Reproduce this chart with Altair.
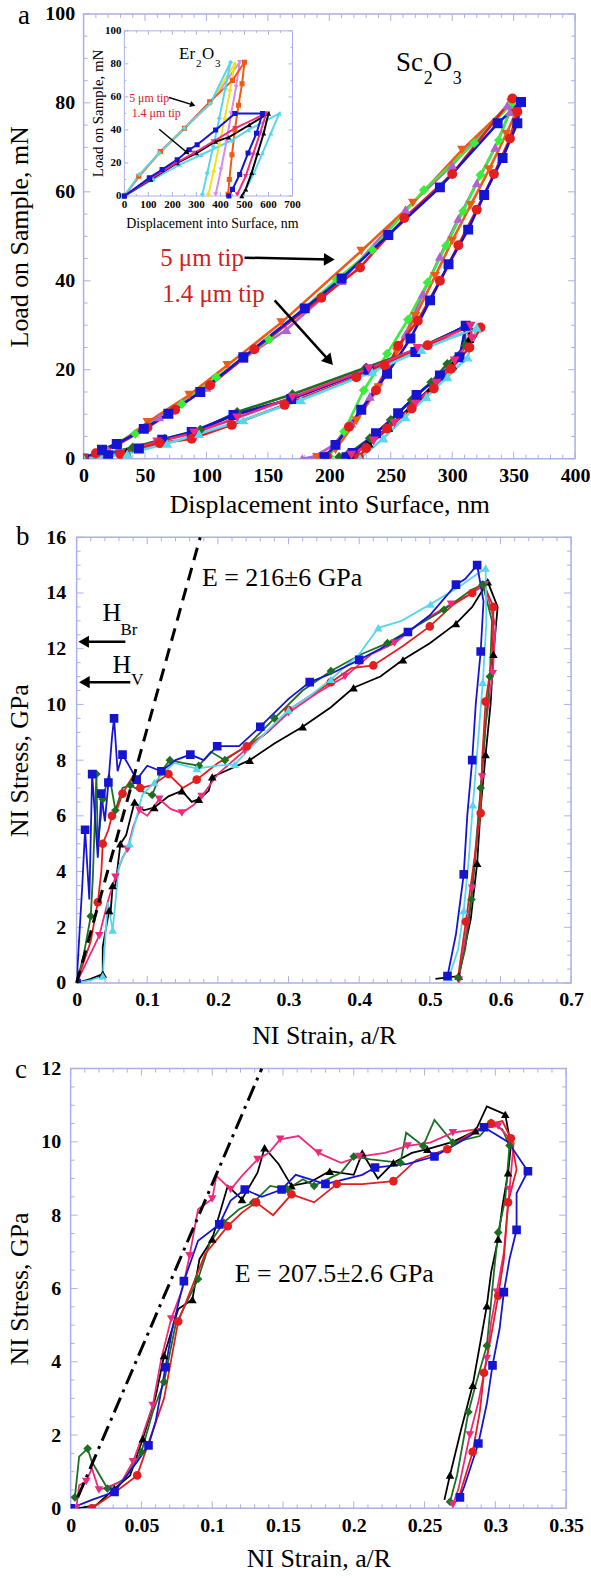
import altair as alt
import pandas as pd

SERIF = "Liberation Serif"
FRAME = "#aab0e6"

# ================= Panel a : Sc2O3, load (mN) vs displacement (nm) =================
# 5 um tip
A5_BLUE_X = [0, 15, 27, 49, 69, 95, 130, 180, 210, 248, 290, 337, 356, 353, 341, 326, 313, 297, 282, 266, 247, 226, 205, 196]
A5_BLUE_Y = [0, 2.0, 3.3, 6.7, 10.1, 15.0, 22.8, 33.8, 40.5, 50.3, 61.0, 75.4, 80.2, 75.4, 67.6, 59.3, 51.5, 43.7, 35.6, 27.0, 19.1, 11.0, 3.1, 0.3]
A5_RED_X = [0, 10, 27.5, 52, 74.5, 103, 139, 193.5, 225, 261, 300, 349, 353, 347, 334, 320, 305, 290, 272, 256, 238, 216, 198]
A5_RED_Y = [0, 1.2, 3.1, 7.0, 11.0, 16.5, 24.6, 36.2, 43.0, 54.1, 64.0, 81.0, 78.0, 72.0, 64.0, 56.0, 48.0, 40.0, 31.0, 25.4, 15.4, 7.2, 0.5]
A5_GREEN_X = [0, 12, 42, 80, 108, 151, 206, 235, 277, 318, 349, 338, 323, 309, 295, 280, 264, 247, 228, 212, 200]
A5_GREEN_Y = [0, 1.5, 5.6, 12.3, 18.3, 26.8, 40.3, 47.0, 60.4, 71.0, 80.0, 71.6, 63.8, 55.7, 47.9, 39.6, 31.3, 23.6, 15.4, 6.1, 0.5]
A5_ORANGE_X = [0, 27, 52, 86, 117, 161, 226, 268, 308, 348, 352, 344, 330, 315, 300, 286, 270, 255, 240, 222, 205, 190]
A5_ORANGE_Y = [0, 3.0, 8.2, 14.3, 21.0, 30.6, 46.7, 57.5, 69.4, 80.0, 78.0, 73.0, 65.0, 57.0, 49.0, 41.0, 32.0, 24.0, 16.0, 8.5, 2.0, 0.3]
A5_PURPLE_X = [0, 20, 61.5, 100, 130, 165, 210, 262, 300, 345, 347, 335, 320, 305, 290, 276, 262, 247, 233, 218, 203, 188, 178]
A5_PURPLE_Y = [0, 2.0, 9.4, 16.0, 22.5, 29.0, 40.0, 56.0, 66.0, 79.5, 78.0, 70.0, 62.0, 54.0, 45.5, 37.0, 28.0, 20.0, 14.0, 8.0, 3.0, 0.5, 0]
# 1.4 um tip
A14_BLUE_X = [0, 20, 45, 64, 88, 122, 169, 232, 270, 311, 306, 290, 271, 256, 238, 219, 214]
A14_BLUE_Y = [0, 0.8, 2.3, 4.25, 6.0, 9.8, 13.4, 20.0, 24.0, 29.9, 22.8, 18.7, 14.3, 10.2, 5.7, 1.3, 0.3]
A14_RED_X = [0, 30, 62, 88, 120.6, 163.6, 222, 245, 280, 323, 314, 299, 285, 267, 247, 230, 224]
A14_RED_Y = [0, 1.0, 3.5, 4.5, 7.6, 12.1, 18.3, 21.0, 25.5, 29.5, 25.0, 20.2, 15.8, 11.3, 6.8, 2.4, 0.3]
A14_GREEN_X = [0, 40, 66, 95, 125, 170, 230, 270, 310, 311, 296, 283, 267, 250, 233, 215, 208]
A14_GREEN_Y = [0, 2.5, 4.5, 6.5, 10.5, 14.5, 20.5, 24.5, 29.5, 25.4, 21.3, 17.2, 13.2, 8.7, 4.6, 1.0, 0.4]
A14_BLACK_X = [0, 35, 64, 90, 122, 169, 231.6, 270, 313, 314, 300, 283, 266, 248, 232, 218]
A14_BLACK_Y = [0, 1.5, 4.25, 6.0, 9.8, 13.4, 20.1, 24.5, 30.0, 27.0, 21.0, 16.0, 11.5, 7.0, 3.5, 0.5]
A14_CYAN_X = [0, 35.6, 68, 94, 130, 177, 235, 275, 320, 312.5, 296, 279, 262, 244, 225]
A14_CYAN_Y = [0, 1.1, 3.4, 5.6, 8.7, 13.2, 19.5, 24.5, 29.5, 22.8, 18.4, 13.9, 9.4, 4.6, 0.1]
A14_MAG_X = [0, 30, 60, 90, 125, 170, 232, 272, 315, 316, 302, 287, 270, 253, 236, 218]
A14_MAG_Y = [0, 1.2, 3.8, 5.8, 9.2, 13.8, 20.2, 24.8, 29.8, 27.0, 22.0, 17.0, 12.3, 8.0, 4.0, 0.8]

# Inset : Er2O3
I5_CYAN_X = [0, 62, 145, 250, 358, 442, 420, 395, 370, 345, 325]
I5_CYAN_Y = [0, 13, 26, 41, 56, 81, 65, 47, 30, 14, 1]
I5_ORANGE_X = [0, 60, 150, 250, 355, 450, 500, 490, 475, 460, 448, 437, 432]
I5_ORANGE_Y = [0, 12, 27, 41, 57, 70, 81, 68, 55, 40, 25, 10, 1]
I5_YELLOW_X = [0, 65, 148, 252, 356, 460, 440, 418, 395, 372, 350]
I5_YELLOW_Y = [0, 13, 26, 41, 56, 80, 64, 47, 31, 15, 1]
I5_PINK_X = [0, 63, 147, 251, 357, 480, 465, 445, 425, 402, 380]
I5_PINK_Y = [0, 12, 26, 41, 56, 81, 66, 50, 33, 16, 1]
I14_BLUE_X = [0, 104, 157, 220, 270, 303, 380, 460, 575, 550, 515, 480, 450, 435]
I14_BLUE_Y = [0, 11, 16, 22, 28, 31, 40, 50, 50, 38, 26, 13, 4, 0]
I14_BLACK_X = [0, 110, 220, 300, 380, 434, 520, 600, 580, 555, 530, 505, 489]
I14_BLACK_Y = [0, 10, 20, 26, 33, 35.5, 43, 50, 38, 26, 14, 4, 0]
I14_MAG_X = [0, 105, 215, 290, 370, 460, 590, 565, 535, 505, 470]
I14_MAG_Y = [0, 10, 20, 26, 33, 41, 50, 38, 25, 12, 1]
I14_CYAN_X = [0, 120, 230, 320, 447, 517, 645, 610, 575, 540, 505, 489]
I14_CYAN_Y = [0, 10, 19, 25, 33.7, 40, 50, 38, 26, 14, 4, 0]

# ================= Panel b : NI stress (GPa) vs NI strain =================
B_BLUE_X = [0, 0.008, 0.012, 0.018, 0.022, 0.03, 0.035, 0.04, 0.045, 0.05, 0.053, 0.058, 0.065, 0.072, 0.085, 0.1, 0.12, 0.14, 0.161, 0.18, 0.199, 0.23, 0.26, 0.3, 0.33, 0.36, 0.4, 0.43, 0.469, 0.5, 0.537, 0.55, 0.567, 0.576, 0.572, 0.565, 0.56, 0.553, 0.548, 0.537, 0.525]
B_BLUE_Y = [0, 3.5, 5.5, 3.0, 7.5, 4.5, 6.8, 5.8, 7.2, 8.8, 9.5, 7.6, 8.2, 7.9, 7.3, 7.8, 7.6, 8.0, 8.2, 8.0, 8.5, 8.5, 9.2, 10.2, 10.8, 11.1, 11.6, 12.0, 12.6, 13.2, 14.3, 14.5, 15.0, 13.7, 11.9, 10.0, 8.0, 6.0, 3.9, 1.75, 0.25]
B_RED_X = [0, 0.02, 0.03, 0.035, 0.037, 0.045, 0.05, 0.058, 0.065, 0.079, 0.09, 0.107, 0.13, 0.15, 0.17, 0.2, 0.241, 0.27, 0.3, 0.33, 0.36, 0.389, 0.42, 0.462, 0.5, 0.534, 0.56, 0.575, 0.59, 0.589, 0.579, 0.574, 0.572, 0.562, 0.551, 0.54]
B_RED_Y = [0, 1.5, 2.9, 4.0, 5.0, 5.5, 6.0, 6.3, 6.8, 7.4, 7.0, 7.1, 7.5, 7.0, 7.3, 7.9, 8.5, 9.0, 9.8, 10.3, 10.8, 11.3, 11.4, 12.1, 12.8, 13.6, 14.0, 14.4, 13.5, 11.8, 10.1, 8.0, 6.1, 4.25, 2.2, 0.2]
B_GREEN_X = [0, 0.01, 0.02, 0.023, 0.028, 0.03, 0.037, 0.046, 0.055, 0.065, 0.076, 0.09, 0.107, 0.12, 0.132, 0.15, 0.173, 0.19, 0.21, 0.245, 0.28, 0.32, 0.36, 0.403, 0.44, 0.48, 0.52, 0.558, 0.575, 0.588, 0.585, 0.578, 0.572, 0.566, 0.559, 0.55, 0.54]
B_GREEN_Y = [0, 1.0, 2.4, 3.8, 7.5, 5.0, 6.6, 7.5, 6.2, 7.0, 7.1, 6.9, 6.75, 7.6, 8.0, 7.9, 7.8, 8.3, 8.0, 8.6, 9.5, 10.5, 11.2, 11.8, 12.2, 12.8, 13.4, 14.1, 14.3, 13.0, 11.0, 9.0, 7.0, 5.0, 3.0, 1.2, 0.2]
B_BLACK_X = [0, 0.02, 0.037, 0.037, 0.046, 0.048, 0.051, 0.055, 0.062, 0.07, 0.082, 0.095, 0.11, 0.13, 0.149, 0.163, 0.173, 0.187, 0.192, 0.21, 0.245, 0.28, 0.32, 0.36, 0.392, 0.43, 0.462, 0.5, 0.537, 0.56, 0.582, 0.596, 0.59, 0.586, 0.579, 0.572, 0.567, 0.558, 0.541, 0.508]
B_BLACK_Y = [0, 0.15, 0.32, 1.3, 2.6, 2.5, 3.5, 3.5, 5.0, 5.3, 6.5, 6.2, 6.3, 6.7, 6.9, 6.5, 6.6, 6.9, 7.4, 7.6, 8.0, 8.6, 9.2, 9.9, 10.6, 11.0, 11.6, 12.2, 12.9, 13.5, 14.4, 13.5, 11.8, 10.0, 8.2, 6.3, 4.3, 2.3, 0.25, 0.15]
B_MAG_X = [0, 0.015, 0.032, 0.045, 0.055, 0.065, 0.072, 0.08, 0.089, 0.1, 0.117, 0.133, 0.149, 0.166, 0.177, 0.2, 0.238, 0.27, 0.3, 0.34, 0.38, 0.417, 0.45, 0.49, 0.53, 0.56, 0.578, 0.593, 0.589, 0.579, 0.574, 0.567, 0.56, 0.548, 0.541]
B_MAG_Y = [0, 0.8, 1.7, 3.0, 3.8, 4.5, 4.8, 5.6, 6.2, 6.0, 6.6, 6.25, 6.1, 6.4, 6.7, 7.5, 8.35, 9.0, 9.7, 10.4, 11.0, 11.8, 12.2, 13.0, 13.6, 14.0, 14.3, 12.8, 11.1, 9.25, 7.4, 5.5, 3.4, 1.25, 0.1]
B_CYAN_X = [0, 0.02, 0.037, 0.044, 0.051, 0.06, 0.075, 0.093, 0.11, 0.138, 0.17, 0.2, 0.224, 0.26, 0.3, 0.33, 0.36, 0.4, 0.427, 0.46, 0.501, 0.54, 0.579, 0.58, 0.575, 0.568, 0.561, 0.555, 0.548, 0.54, 0.527]
B_CYAN_Y = [0, 0.1, 0.25, 2.9, 1.9, 4.2, 5.0, 6.75, 7.2, 7.9, 7.7, 7.8, 7.85, 8.8, 9.8, 10.3, 10.9, 11.8, 12.75, 13.0, 13.6, 14.2, 14.9, 12.9, 10.8, 8.6, 6.4, 4.4, 2.6, 1.2, 0.2]
B_ELASTIC_X = [0, 0.175]
B_ELASTIC_Y = [0, 16]

# ================= Panel c : NI stress (GPa) vs NI strain =================
C_BLUE_X = [0, 0.015, 0.031, 0.047, 0.055, 0.06, 0.067, 0.072, 0.08, 0.09, 0.105, 0.113, 0.123, 0.135, 0.149, 0.159, 0.18, 0.206, 0.215, 0.238, 0.257, 0.275, 0.292, 0.309, 0.323, 0.315, 0.315, 0.31, 0.306, 0.303, 0.298, 0.294, 0.288, 0.278, 0.275]
C_BLUE_Y = [0, 0.23, 0.45, 1.27, 1.72, 2.36, 3.85, 4.94, 6.2, 7.3, 7.75, 8.4, 8.7, 8.5, 8.7, 9.1, 8.85, 9.1, 9.3, 9.4, 9.6, 10.0, 10.4, 10.0, 9.2, 8.6, 7.6, 6.8, 5.9, 4.9, 3.9, 2.86, 1.77, 0.59, 0.3]
C_RED_X = [0.015, 0.03, 0.047, 0.066, 0.076, 0.095, 0.111, 0.121, 0.131, 0.143, 0.156, 0.172, 0.188, 0.206, 0.228, 0.244, 0.266, 0.281, 0.297, 0.305, 0.311, 0.315, 0.309, 0.306, 0.302, 0.297, 0.292, 0.289, 0.284, 0.274]
C_RED_Y = [0, 0.4, 0.9, 3.0, 5.1, 6.94, 7.7, 8.07, 8.35, 8.0, 8.57, 8.35, 8.85, 8.85, 8.93, 9.5, 9.8, 10.2, 10.5, 10.57, 10.1, 9.25, 8.35, 6.8, 5.8, 4.7, 3.7, 2.63, 1.54, 0.27]
C_BLACK_X = [0.005, 0.018, 0.031, 0.042, 0.051, 0.06, 0.066, 0.076, 0.086, 0.091, 0.1, 0.111, 0.121, 0.132, 0.137, 0.147, 0.156, 0.169, 0.183, 0.2, 0.206, 0.217, 0.228, 0.241, 0.252, 0.27, 0.286, 0.294, 0.307, 0.311, 0.309, 0.305, 0.302, 0.297, 0.294, 0.289, 0.284, 0.276, 0.268, 0.264]
C_BLACK_Y = [0, 0.09, 0.54, 0.9, 1.9, 3.04, 4.17, 5.44, 5.7, 6.8, 7.35, 8.8, 8.43, 9.16, 9.84, 9.39, 8.8, 8.9, 9.2, 9.1, 9.7, 9.0, 9.43, 9.7, 9.8, 10.0, 10.3, 10.97, 10.75, 9.9, 9.16, 8.25, 7.35, 6.44, 5.53, 4.44, 3.36, 2.18, 0.91, 0.23]
C_GREEN_X = [0.003, 0.006, 0.012, 0.015, 0.026, 0.038, 0.05, 0.058, 0.066, 0.074, 0.09, 0.098, 0.108, 0.119, 0.129, 0.141, 0.153, 0.164, 0.172, 0.191, 0.2, 0.212, 0.233, 0.237, 0.249, 0.257, 0.27, 0.289, 0.297, 0.305, 0.31, 0.307, 0.302, 0.299, 0.294, 0.286, 0.281, 0.273, 0.268]
C_GREEN_Y = [0.3, 1.41, 1.63, 1.27, 0.54, 0.8, 1.54, 2.63, 3.45, 4.99, 6.26, 7.21, 7.8, 8.16, 8.35, 8.8, 8.71, 8.98, 8.8, 9.16, 9.6, 9.52, 9.43, 10.25, 9.89, 10.6, 9.98, 10.16, 10.52, 10.34, 9.9, 8.44, 7.53, 6.44, 4.44, 3.36, 2.63, 0.91, 0.18]
C_MAG_X = [0.004, 0.006, 0.011, 0.015, 0.02, 0.036, 0.044, 0.05, 0.058, 0.064, 0.071, 0.079, 0.084, 0.09, 0.1, 0.103, 0.113, 0.121, 0.132, 0.14, 0.148, 0.161, 0.175, 0.191, 0.204, 0.222, 0.238, 0.254, 0.27, 0.286, 0.302, 0.313, 0.31, 0.306, 0.301, 0.297, 0.294, 0.288, 0.282, 0.274, 0.27]
C_MAG_Y = [0, 0.63, 0.73, 1.09, 0.5, 0.73, 1.27, 1.9, 2.81, 4.08, 5.17, 5.99, 6.89, 8.16, 8.44, 9.07, 8.7, 9.07, 9.52, 9.7, 10.07, 10.16, 9.7, 9.43, 9.6, 9.7, 9.89, 9.98, 10.25, 10.34, 10.43, 9.98, 8.7, 6.98, 5.9, 5.08, 4.08, 2.9, 2.0, 0.54, 0.1]
C_ELASTIC_X = [0.005, 0.135]
C_ELASTIC_Y = [0.3, 12]

# tick values
A_X_MAJOR = [0, 50, 100, 150, 200, 250, 300, 350, 400]
A_Y_MAJOR = [0, 20, 40, 60, 80, 100]
B_X_MAJOR = [0, 0.1, 0.2, 0.3, 0.4, 0.5, 0.6, 0.7]
B_Y_MAJOR = [0, 2, 4, 6, 8, 10, 12, 14, 16]
C_X_MAJOR = [0, 0.05, 0.1, 0.15, 0.2, 0.25, 0.3, 0.35]
C_Y_MAJOR = [0, 2, 4, 6, 8, 10, 12]
I_X_MAJOR = [0, 100, 200, 300, 400, 500, 600, 700]
I_Y_MAJOR = [0, 20, 40, 60, 80, 100]

A_X_MINOR = [v for v in range(0, 401, 10) if v % 50]
A_Y_MINOR = [v for v in range(0, 101, 5) if v % 20]
B_X_MINOR = [round(i * 0.02, 3) for i in range(36) if i % 5]
B_Y_MINOR = [i * 0.5 for i in range(33) if i % 4]
C_X_MINOR = [round(i * 0.01, 3) for i in range(36) if i % 5]
C_Y_MINOR = [i * 0.5 for i in range(25) if i % 4]
I_X_MINOR = [v for v in range(50, 700, 100)]
I_Y_MINOR = [10, 30, 50, 70, 90]

# colours
BLUE, RED, DKGREEN, BLACK, MAG, CYAN = "#1414d2", "#e21e1e", "#1c6e22", "#000000", "#f0287e", "#58d6ee"
LTGREEN, ORANGE, PURPLE, YELLOW, PINK = "#3cec3c", "#f05a14", "#b45fd2", "#f2e21c", "#d88ae8"


def series_layers(series, xs, ys, xax, yax, size, lw, every=1):
    rows = []
    for name, xv, yv, color, shape in series:
        for i, (a, b) in enumerate(zip(xv, yv)):
            rows.append({"x": a, "y": b, "i": i, "s": name, "c": color, "sh": shape})
    df = pd.DataFrame(rows)
    base = alt.Chart(df)
    X = alt.X("x:Q", scale=xs, axis=xax)
    Y = alt.Y("y:Q", scale=ys, axis=yax)
    line = base.mark_line(strokeWidth=lw, clip=True).encode(
        x=X, y=Y, color=alt.Color("c:N", scale=None), detail="s:N", order="i:Q")
    pts = base.transform_filter(f"datum.i % {every} == 0").mark_point(
        filled=True, opacity=1, size=size, clip=True).encode(
        x=X, y=Y, color=alt.Color("c:N", scale=None), shape=alt.Shape("sh:N", scale=None))
    return [line, pts]


def tick_layers(xs, ys, xmaj, xmin, ymaj, ymin, W, H, xax, yax, x0=0, y0=0, big=7, small=4):
    out = []
    for vals, L in ((xmaj, big), (xmin, small)):
        c = alt.Chart(pd.DataFrame({"v": vals}))
        X = alt.X("v:Q", scale=xs, axis=xax)
        out.append(c.mark_rule(color=FRAME, strokeWidth=1).encode(x=X, y=alt.value(y0 + H), y2=alt.value(y0 + H - L)))
        out.append(c.mark_rule(color=FRAME, strokeWidth=1).encode(x=X, y=alt.value(y0), y2=alt.value(y0 + L)))
    for vals, L in ((ymaj, big), (ymin, small)):
        c = alt.Chart(pd.DataFrame({"v": vals}))
        Y = alt.Y("v:Q", scale=ys, axis=yax)
        out.append(c.mark_rule(color=FRAME, strokeWidth=1).encode(y=Y, x=alt.value(x0), x2=alt.value(x0 + L)))
        out.append(c.mark_rule(color=FRAME, strokeWidth=1).encode(y=Y, x=alt.value(x0 + W), x2=alt.value(x0 + W - L)))
    return out


def ptext(text, x, y, size, color="black", align="left", baseline="alphabetic", weight="normal", angle=0):
    kw = dict(text=text, font=SERIF, fontSize=size, align=align, baseline=baseline, color=color, fontWeight=weight)
    if angle:
        kw["angle"] = angle
    return alt.Chart(pd.DataFrame({"d": [0]})).mark_text(**kw).encode(x=alt.value(x), y=alt.value(y))


def extent_box(top, bottom):
    # invisible box fixing the vertical extent of a panel for the layout
    return alt.Chart(pd.DataFrame({"d": [0]})).mark_rect(opacity=0).encode(
        x=alt.value(0), x2=alt.value(1), y=alt.value(top), y2=alt.value(bottom))


def arrow(x0, y0, x1, y1, xs, ys, xax, yax, angle, size, width=2.5, shape="triangle-right"):
    d = pd.DataFrame({"x": [x0], "y": [y0], "x1": [x1], "y1": [y1]})
    shaft = alt.Chart(d).mark_rule(color="black", strokeWidth=width).encode(
        x=alt.X("x:Q", scale=xs, axis=xax), y=alt.Y("y:Q", scale=ys, axis=yax), x2="x1:Q", y2="y1:Q")
    kw = dict(shape=shape, filled=True, opacity=1, color="black", size=size)
    if angle:
        kw["angle"] = angle
    head = alt.Chart(d).mark_point(**kw).encode(
        x=alt.X("x1:Q", scale=xs, axis=xax), y=alt.Y("y1:Q", scale=ys, axis=yax))
    return [shaft, head]


LABEL_EXPR = "'' + datum.value"


def xaxis(values, title, pad, tY, W):
    return alt.Axis(values=values, labelExpr=LABEL_EXPR, title=title, labelPadding=pad,
                    titleX=W / 2, titleY=tY, titleAlign="center", titleBaseline="alphabetic", titleAngle=0)


def yaxis(values, title, pad, tX, H):
    return alt.Axis(values=values, labelExpr=LABEL_EXPR, title=title, labelPadding=pad,
                    titleX=tX, titleY=H / 2, titleAlign="center", titleBaseline="middle", titleAngle=270)


# ---------------- panel a ----------------
AW, AH = 494, 447
axs = alt.Scale(domain=[0, 400], nice=False, zero=False)
ays = alt.Scale(domain=[0, 100], nice=False, zero=False)
axx = xaxis(A_X_MAJOR, "Displacement into Surface, nm", 7, 54, AW)
ayx = yaxis(A_Y_MAJOR, "Load on Sample, mN", 9, -64, AH)

a_series = [
    ("p", A5_PURPLE_X, A5_PURPLE_Y, PURPLE, "triangle-up"),
    ("o", A5_ORANGE_X, A5_ORANGE_Y, ORANGE, "triangle-down"),
    ("g", A5_GREEN_X, A5_GREEN_Y, LTGREEN, "diamond"),
    ("r", A5_RED_X, A5_RED_Y, RED, "circle"),
    ("b", A5_BLUE_X, A5_BLUE_Y, BLUE, "square"),
    ("k14", A14_BLACK_X, A14_BLACK_Y, BLACK, "triangle-up"),
    ("g14", A14_GREEN_X, A14_GREEN_Y, DKGREEN, "diamond"),
    ("b14", A14_BLUE_X, A14_BLUE_Y, BLUE, "square"),
    ("m14", A14_MAG_X, A14_MAG_Y, MAG, "triangle-down"),
    ("r14", A14_RED_X, A14_RED_Y, RED, "circle"),
    ("c14", A14_CYAN_X, A14_CYAN_Y, CYAN, "triangle-up"),
]

a_layers = [extent_box(-45, AH + 60)]
a_layers += tick_layers(axs, ays, A_X_MAJOR, A_X_MINOR, A_Y_MAJOR, A_Y_MINOR, AW, AH, axx, ayx)
a_layers += series_layers(a_series, axs, ays, axx, ayx, size=100, lw=2.6, every=1)
a_layers += arrow(131, 45.2, 200, 44.8, axs, ays, axx, ayx, 1, 160)
a_layers += arrow(155.5, 35.6, 200, 22.0, axs, ays, axx, ayx, 48.6, 160)
a_layers += [
    ptext("5 μm tip", 77, 253, 25, color="#d42020"),
    ptext("1.4 μm tip", 79, 290, 25, color="#d42020"),
    ptext("Sc", 314, 57, 27),
    ptext("2", 342, 70, 18),
    ptext("O", 351, 57, 27),
    ptext("3", 371, 70, 18),
    ptext("a", -66, 10, 27),
]
main_a = alt.layer(*a_layers)

# inset (pixel ranges inside panel a)
IL, IR, IT, IB = 41, 210, 17, 183
ixs = alt.Scale(domain=[0, 700], range=[IL, IR], nice=False, zero=False)
iys = alt.Scale(domain=[0, 100], range=[IB, IT], nice=False, zero=False)
i_series = [
    ("ip", I5_PINK_X, I5_PINK_Y, PINK, "triangle-down"),
    ("iy", I5_YELLOW_X, I5_YELLOW_Y, YELLOW, "diamond"),
    ("io", I5_ORANGE_X, I5_ORANGE_Y, ORANGE, "square"),
    ("ic", I5_CYAN_X, I5_CYAN_Y, CYAN, "diamond"),
    ("ic14", I14_CYAN_X, I14_CYAN_Y, CYAN, "triangle-up"),
    ("ik14", I14_BLACK_X, I14_BLACK_Y, BLACK, "triangle-up"),
    ("im14", I14_MAG_X, I14_MAG_Y, MAG, "triangle-down"),
    ("ib14", I14_BLUE_X, I14_BLUE_Y, BLUE, "square"),
]
frame_df = pd.DataFrame({"d": [0]})
i_layers = [alt.Chart(frame_df).mark_rect(fill="white", stroke=FRAME, strokeWidth=1).encode(
    x=alt.value(IL), x2=alt.value(IR), y=alt.value(IT), y2=alt.value(IB))]
i_layers += tick_layers(ixs, iys, I_X_MAJOR, I_X_MINOR, I_Y_MAJOR, I_Y_MINOR, IR - IL, IB - IT, None, None,
                        x0=IL, y0=IT, big=4, small=2)
i_layers += series_layers(i_series, ixs, iys, None, None, size=26, lw=2.0, every=1)
i_layers += [
    alt.Chart(pd.DataFrame({"v": I_X_MAJOR})).mark_text(font=SERIF, fontSize=11, fontWeight="bold",
                                                        baseline="top", color="black").encode(
        x=alt.X("v:Q", scale=ixs, axis=None), y=alt.value(IB + 3), text="v:Q"),
    alt.Chart(pd.DataFrame({"v": I_Y_MAJOR})).mark_text(font=SERIF, fontSize=11, fontWeight="bold",
                                                        align="right", baseline="middle", color="black").encode(
        y=alt.Y("v:Q", scale=iys, axis=None), x=alt.value(IL - 3), text="v:Q"),
    ptext("Displacement into Surface, nm", (IL + IR) / 2 + 4, IB + 32, 14, align="center"),
    ptext("Load on Sample, mN", 15, (IT + IB) / 2, 15, align="center", baseline="middle", angle=270),
    ptext("Er", 96, 45, 17),
    ptext("2", 113, 53, 11),
    ptext("O", 119, 45, 17),
    ptext("3", 132, 53, 11),
    ptext("5 μm tip", 66, 89, 12, color="#d42020", align="center"),
    ptext("1.4 μm tip", 73, 104, 12, color="#d42020", align="center"),
]
i_layers += arrow(186, 59.6, 285, 55.2, ixs, iys, None, None, 17.7, 40, width=1.5)
i_layers += arrow(145, 40.4, 262, 26.2, ixs, iys, None, None, 39.8, 40, width=1.5)
inset = alt.layer(*i_layers)

panel_a = alt.layer(main_a, inset).resolve_scale(x="independent", y="independent").properties(width=AW, height=AH)

# ---------------- panel b ----------------
BW, BH = 497, 448
bxs = alt.Scale(domain=[0, 0.7], nice=False, zero=False)
bys = alt.Scale(domain=[0, 16], nice=False, zero=False)
bxx = xaxis(B_X_MAJOR, "NI Strain, a/R", 7, 61, BW)
byx = yaxis(B_Y_MAJOR, "NI Stress, GPa", 11, -57, BH)
b_series = [
    ("bk", B_BLACK_X, B_BLACK_Y, BLACK, "triangle-up"),
    ("bm", B_MAG_X, B_MAG_Y, MAG, "triangle-down"),
    ("bg", B_GREEN_X, B_GREEN_Y, DKGREEN, "diamond"),
    ("br", B_RED_X, B_RED_Y, RED, "circle"),
    ("bc", B_CYAN_X, B_CYAN_Y, CYAN, "triangle-up"),
    ("bb", B_BLUE_X, B_BLUE_Y, BLUE, "square"),
]
b_layers = [extent_box(-17, BH + 67)]
b_layers += tick_layers(bxs, bys, B_X_MAJOR, B_X_MINOR, B_Y_MAJOR, B_Y_MINOR, BW, BH, bxx, byx)
b_layers += series_layers(b_series, bxs, bys, bxx, byx, size=75, lw=1.8, every=2)
b_layers.append(alt.Chart(pd.DataFrame({"x": B_ELASTIC_X, "y": B_ELASTIC_Y})).mark_line(
    color="black", strokeWidth=3, strokeDash=[13, 8]).encode(
    x=alt.X("x:Q", scale=bxs, axis=bxx), y=alt.Y("y:Q", scale=bys, axis=byx)))
b_layers += arrow(0.069, 12.25, 0.01, 12.25, bxs, bys, bxx, byx, 0, 150, shape="triangle-left")
b_layers += arrow(0.076, 10.8, 0.011, 10.8, bxs, bys, bxx, byx, 0, 150, shape="triangle-left")
b_layers += [
    ptext("H", 26, 84, 26),
    ptext("Br", 44, 98, 17),
    ptext("H", 36, 136, 26),
    ptext("V", 55, 148, 17),
    ptext("E = 216±6 GPa", 126, 49, 26),
    ptext("b", -61, 8, 27),
]
panel_b = alt.layer(*b_layers).properties(width=BW, height=BH)

# ---------------- panel c ----------------
CW, CH = 498, 442
cxs = alt.Scale(domain=[0, 0.35], nice=False, zero=False)
cys = alt.Scale(domain=[0, 12], nice=False, zero=False)
cxx = xaxis(C_X_MAJOR, "NI Strain, a/R", 7, 58, CW)
cyx = yaxis(C_Y_MAJOR, "NI Stress, GPa", 10, -51, CH)
c_series = [
    ("ck", C_BLACK_X, C_BLACK_Y, BLACK, "triangle-up"),
    ("cg", C_GREEN_X, C_GREEN_Y, DKGREEN, "diamond"),
    ("cm", C_MAG_X, C_MAG_Y, MAG, "triangle-down"),
    ("cr", C_RED_X, C_RED_Y, RED, "circle"),
    ("cb", C_BLUE_X, C_BLUE_Y, BLUE, "square"),
]
c_layers = [extent_box(-17, CH + 66)]
c_layers += tick_layers(cxs, cys, C_X_MAJOR, C_X_MINOR, C_Y_MAJOR, C_Y_MINOR, CW, CH, cxx, cyx)
c_layers += series_layers(c_series, cxs, cys, cxx, cyx, size=75, lw=1.8, every=2)
c_layers.append(alt.Chart(pd.DataFrame({"x": C_ELASTIC_X, "y": C_ELASTIC_Y})).mark_line(
    color="black", strokeWidth=3, strokeDash=[16, 6, 3, 6]).encode(
    x=alt.X("x:Q", scale=cxs, axis=cxx), y=alt.Y("y:Q", scale=cys, axis=cyx)))
c_layers += [
    ptext("E = 207.5±2.6 GPa", 165, 207, 26, baseline="middle"),
    ptext("c", -56, 9, 27),
]
panel_c = alt.layer(*c_layers).properties(width=CW, height=CH)


def spacer():
    return alt.Chart(pd.DataFrame({"d": [0]})).mark_rect(opacity=0).encode(
        x=alt.value(0), x2=alt.value(1), y=alt.value(0), y2=alt.value(1)
    ).properties(width=1, height=1, view=alt.ViewBackground(stroke="transparent"))


rows = [alt.hconcat(spacer(), p, spacing=0) for p in (panel_a, panel_b, panel_c)]

chart = alt.vconcat(*rows, spacing=0).properties(
    padding={"left": 3, "top": -36, "right": 0, "bottom": 0}, background="white"
).configure_view(stroke=FRAME, strokeWidth=1.5).configure_axis(
    labelFont=SERIF, labelFontSize=20, labelFontWeight="bold", labelColor="black",
    titleFont=SERIF, titleFontSize=26, titleFontWeight="normal", titleColor="black",
    domain=False, ticks=False, tickSize=0, grid=False, labelFlush=False, labelOverlap=False,
)

chart.save("out.html", embed_options={"renderer": "svg", "actions": False})
